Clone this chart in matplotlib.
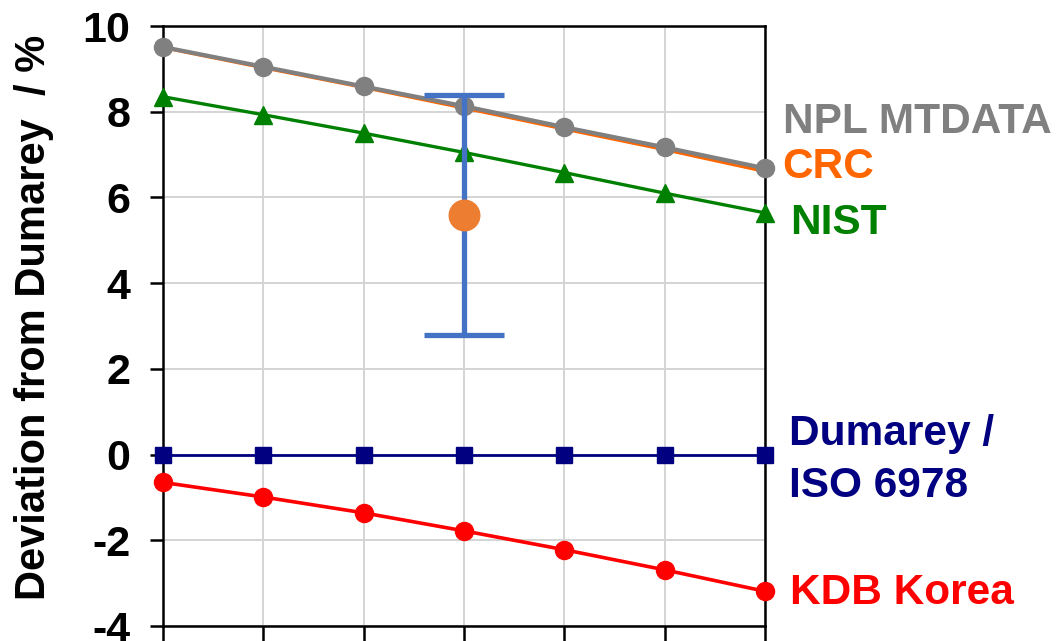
import matplotlib
matplotlib.use('Agg')
import matplotlib.pyplot as plt
import numpy as np

# x positions (tick labels are cut off in the original)
x = [0, 1, 2, 3, 4, 5, 6]

npl_mtdata = [9.51, 9.05, 8.59, 8.13, 7.64, 7.17, 6.68]
crc = [9.50, 9.03, 8.57, 8.09, 7.60, 7.12, 6.61]
nist = [8.35, 7.93, 7.50, 7.05, 6.58, 6.10, 5.64]
dumarey = [0, 0, 0, 0, 0, 0, 0]
kdb_korea = [-0.65, -0.99, -1.36, -1.78, -2.22, -2.69, -3.19]

# single point with uncertainty
point_x = [3]
point_y = [5.6]
point_err_low = [2.82]
point_err_high = [2.78]

yticks = [-4, -2, 0, 2, 4, 6, 8, 10]

font_size = 31
plt.rc('font', **{'size': font_size, 'family': 'Liberation Sans', 'weight': 'bold'})
plt.rc('axes', unicode_minus=False)

fig = plt.figure(figsize=(10.56, 6.41), dpi=100)
ax = fig.add_axes([163 / 1056, 1 - 626 / 641, 602 / 1056, 600 / 641])

ax.plot(x, crc, color='#FF6600', linewidth=2.6, zorder=3, clip_on=False)
ax.plot(x, npl_mtdata, color='#808080', linewidth=3.0, marker='o',
        markersize=13, zorder=4, clip_on=False)
ax.plot(x, nist, color='#008000', linewidth=2.4, marker='^',
        markersize=12.5, zorder=4, clip_on=False)
ax.plot(x, dumarey, color='#000080', linewidth=2.0, marker='s',
        markersize=11.5, zorder=4, clip_on=False)
ax.plot(x, kdb_korea, color='#FF0000', linewidth=2.6, marker='o',
        markersize=13, zorder=4, clip_on=False)

ax.errorbar(point_x, point_y, yerr=[point_err_low, point_err_high],
            fmt='o', color='#ED7D31', markersize=22, ecolor='#4472C4',
            elinewidth=3.8, capsize=29, capthick=3.8, zorder=5)

ax.set_xlim(0, 6)
ax.set_ylim(-4, 10)
ax.set_yticks(yticks)
ax.set_xticks(x)
ax.set_xticklabels([])
ax.grid(True, color='#D4D4D4', linewidth=1.4, zorder=0)
ax.set_axisbelow(True)

for s in ax.spines.values():
    s.set_linewidth(1.8)
    s.set_color('black')
ax.tick_params(axis='y', direction='out', length=9.5, width=1.8, pad=14,
               labelsize=font_size)
ax.tick_params(axis='x', direction='out', length=12, width=1.8)

ax.set_ylabel('Deviation from Dumarey  / %', fontsize=30, fontweight='bold')
ax.yaxis.set_label_coords(-(163 - 54) / 602, 0.515)

# series labels on the right
lab = dict(ha='left', va='center', fontsize=30.5, fontweight='bold', clip_on=False)
ax.text(6.18, 7.76, 'NPL MTDATA', color='#808080', **lab)
ax.text(6.17, 6.71, 'CRC', color='#FF6600', **lab)
ax.text(6.25, 5.41, 'NIST', color='#008000', **lab)
ax.text(6.24, -0.12, 'Dumarey /\nISO 6978', color='#000080', linespacing=1.4, **lab)
ax.text(6.25, -3.22, 'KDB Korea', color='#FF0000', **lab)

plt.savefig('out.png', dpi=100)
